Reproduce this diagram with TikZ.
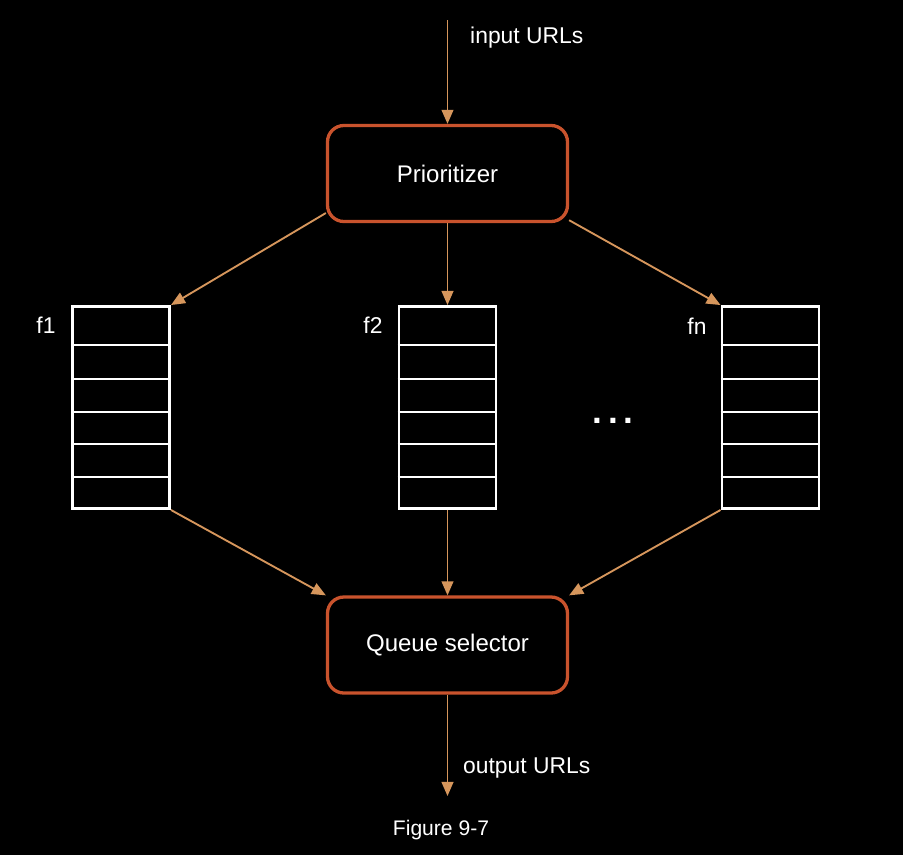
\documentclass[tikz,border=0pt]{standalone}
\usepackage{fontspec}
\setmainfont{Liberation Sans}
\usetikzlibrary{arrows.meta}

\definecolor{stageline}{RGB}{201,83,45}
\definecolor{urlline}{RGB}{214,150,92}

\tikzstyle{stage} = [draw=stageline, line width=2.8pt, rounded corners=14pt, minimum width=7.2cm, minimum height=2.88cm, text=white, font=\fontsize{20.5}{24}\selectfont]
\tikzstyle{fifo} = [draw=white, line width=2.5pt, minimum width=2.91cm, minimum height=6.06cm, inner sep=0pt]
\tikzstyle{cell} = [draw=white, line width=2.5pt]
\tikzstyle{lbl} = [text=white, inner sep=0pt, font=\fontsize{19.5}{23}\selectfont]
\tikzstyle{feed} = [draw=urlline, line width=1.6pt, -{Triangle[length=12pt, width=10pt]}]

\begin{document}
\begin{tikzpicture}[x=0.03cm, y=-0.03cm]
\fill[black] (0,0) rectangle (903,855);

\node[stage] (prio) at (447.5,173.5) {Prioritizer};
\node[stage] (sel) at (447.5,645) {Queue selector};

\node[fifo] (q1) at (121,407.5) {};
\node[fifo] (q2) at (447.5,407.5) {};
\node[fifo] (qn) at (770.5,407.5) {};
\foreach \q in {q1,q2,qn}
    \foreach \y in {345,379,412,444,477}
        \draw[cell] (\q.west |- 0,\y) -- (\q.east |- 0,\y);

\node[lbl] (f1) at (46,325) {f1};
\node[lbl] (f2) at (373,325) {f2};
\node[lbl] (fn) at (697,326) {fn};
\node[lbl, font=\fontsize{30}{32}\selectfont\bfseries] (dots) at (613,421) {.\hspace{0.17em}.\hspace{0.17em}.};

\coordinate (in) at (447.5,20);
\coordinate (out) at (447.5,796);
\node[lbl, anchor=west] (inlbl) at (470,38) {input URLs};
\node[lbl, anchor=west] (outlbl) at (463,768) {output URLs};
\node[lbl, font=\fontsize{18}{22}\selectfont] (fig) at (441,830) {Figure 9-7};

% into and out of the stages
\draw[feed] (in) -- (prio.north);
\draw[feed] (sel.south) -- (out);

% prioritizer to the queues
\draw[feed] (prio.198) -- (q1.north east);
\draw[feed] (prio.south) -- (q2.north);
\draw[feed] (prio.-21) -- (qn.north west);

% queues to the selector
\draw[feed] (q1.south east) -- (sel.north west);
\draw[feed] (q2.south) -- (sel.north);
\draw[feed] (qn.south west) -- (sel.north east);
\end{tikzpicture}
\end{document}
